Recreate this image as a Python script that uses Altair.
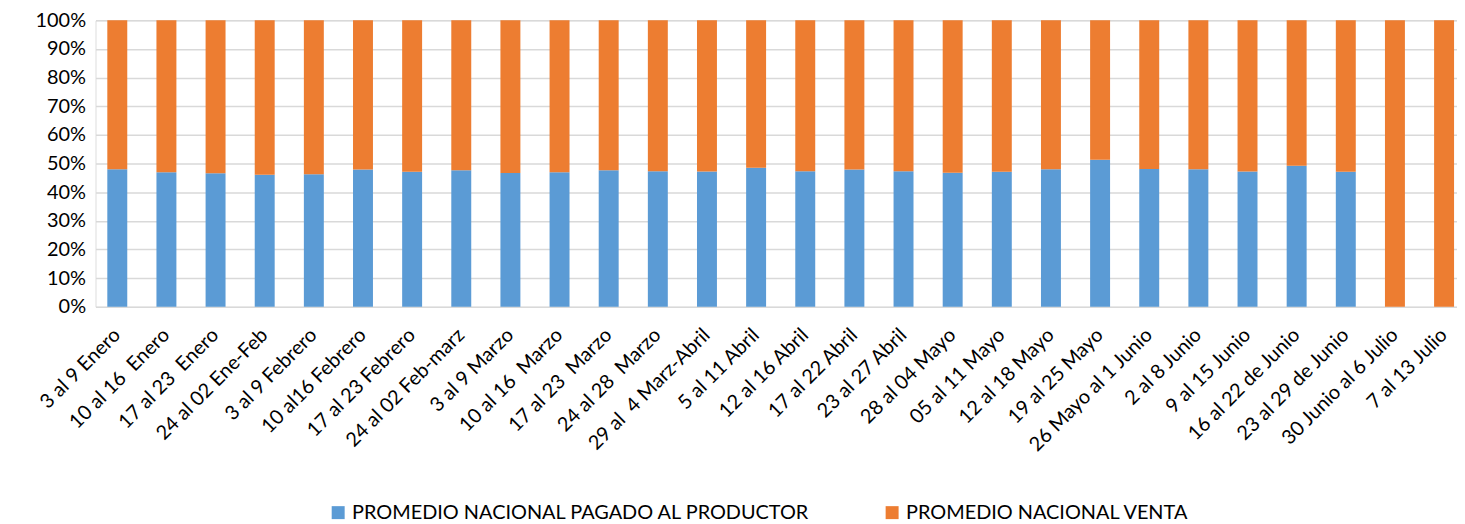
import altair as alt
import pandas as pd

categories = [
    "3 al 9 Enero", "10 al 16 \u00a0Enero", "17 al 23 \u00a0Enero", "24 al 02 Ene-Feb",
    "3 al 9 Febrero", "10 al16 Febrero", "17 al 23 Febrero", "24 al 02 Feb-marz",
    "3 al 9 Marzo", "10 al 16 \u00a0Marzo", "17 al 23 \u00a0Marzo", "24 al 28 \u00a0Marzo",
    "29 al \u00a04 Marz-Abril", "5 al 11 Abril", "12 al 16 Abril", "17 al 22 Abril",
    "23 al 27 Abril", "28 al 04 Mayo", "05 al 11 Mayo", "12 al 18 Mayo",
    "19 al 25 Mayo", "26 Mayo al 1 Junio", "2 al 8 Junio", "9 al 15 Junio",
    "16 al 22 de Junio", "23 al 29 de Junio", "30 Junio al 6 Julio", "7 al 13 Julio",
]
productor = [48.0, 47.0, 46.6, 46.1, 46.3, 47.9, 47.1, 47.7,
             46.7, 47.0, 47.7, 47.3, 47.2, 48.5, 47.3, 47.9,
             47.3, 46.8, 47.1, 48.0, 51.3, 48.1, 48.0, 47.2,
             49.2, 47.1, 0.0, 0.0]
venta = [52.0, 53.0, 53.4, 53.9, 53.7, 52.1, 52.9, 52.3,
         53.3, 53.0, 52.3, 52.7, 52.8, 51.5, 52.7, 52.1,
         52.7, 53.2, 52.9, 52.0, 48.7, 51.9, 52.0, 52.8,
         50.8, 52.9, 100.0, 100.0]
series = ["PROMEDIO NACIONAL PAGADO AL PRODUCTOR", "PROMEDIO NACIONAL VENTA"]
colors = ["#5B9BD5", "#ED7D31"]

rows = []
for c, p, v in zip(categories, productor, venta):
    rows.append({"cat": c, "serie": series[0], "valor": p, "ord": 0})
    rows.append({"cat": c, "serie": series[1], "valor": v, "ord": 1})
df = pd.DataFrame(rows)

FONT = "Lato"

chart = alt.Chart(df).mark_bar().encode(
    x=alt.X("cat:N", sort=categories, title=None,
            scale=alt.Scale(paddingInner=0.594, paddingOuter=0.15, align=0.8),
            axis=alt.Axis(labelAngle=-45, labelAlign="right", labelBaseline="middle",
                          labelFontSize=20, labelFont=FONT, labelColor="#000000",
                          labelPadding=25, ticks=False, domain=False, grid=False,
                          labelOverlap=False, labelLimit=400)),
    y=alt.Y("valor:Q", stack="normalize", title=None,
            scale=alt.Scale(domain=[0, 1], nice=False),
            axis=alt.Axis(format=".0%", values=[i / 10 for i in range(11)],
                          labelFontSize=20, labelFont=FONT, labelColor="#000000",
                          ticks=False, domain=False, gridColor="#D9D9D9",
                          gridWidth=1.5, labelPadding=10)),
    color=alt.Color("serie:N", scale=alt.Scale(domain=series, range=colors),
                    legend=alt.Legend(title=None, orient="none", direction="horizontal",
                                      legendX=234, legendY=485,
                                      symbolType="square", symbolSize=170,
                                      labelFontSize=20, labelFont=FONT,
                                      labelColor="#000000", columnPadding=72,
                                      labelLimit=0, symbolStrokeWidth=0)),
    order=alt.Order("ord:Q", sort="ascending"),
).properties(
    width=1369, height=288,
    padding={"top": 1, "left": 27, "right": 0, "bottom": 0},
).configure_view(stroke=None).configure(background="white")

chart.save("out.html", embed_options={"renderer": "svg", "actions": False})
